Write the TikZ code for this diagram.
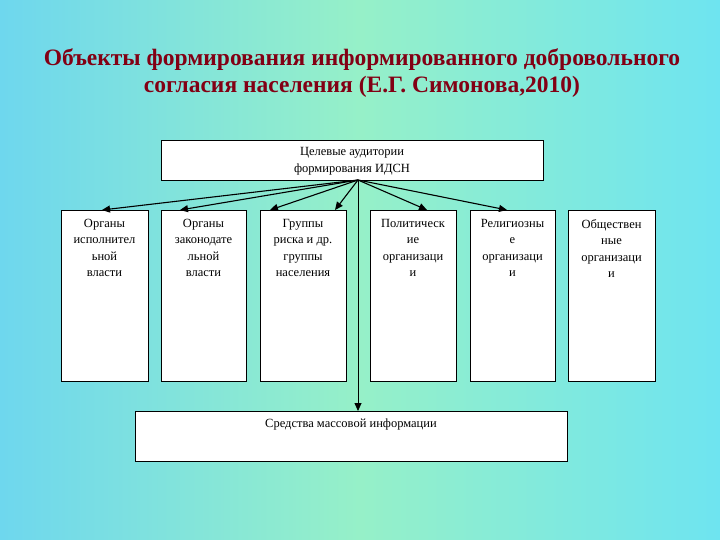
\documentclass[tikz,border=0pt]{standalone}
\usepackage{fontspec}
\setmainfont{Liberation Serif}
\usetikzlibrary{arrows.meta}
\definecolor{bgl}{RGB}{110,215,238}
\definecolor{bgm}{RGB}{150,240,200}
\definecolor{bgr}{RGB}{110,228,240}
\definecolor{ttl}{RGB}{130,0,20}
\begin{document}
\begin{tikzpicture}[x=1pt,y=-1pt,
 bx/.style={draw=black,fill=white,line width=0.8pt},
 lbl/.style={align=center,font=\fontsize{12.5}{16.5}\selectfont,inner sep=0pt},
 ar/.style={-{Triangle[length=8pt,width=7pt]},line width=1.1pt}]
\useasboundingbox (0,0) rectangle (720,540);
\shade[left color=bgl,right color=bgr,middle color=bgm,shading=axis,shading angle=90] (0,0) rectangle (720,540);
\node[font=\bfseries\fontsize{23.5}{27}\selectfont,text=ttl,align=center] (t) at (362,73) {Объекты формирования информированного добровольного\\согласия населения (Е.Г. Симонова,2010)};
\draw[bx] (161,140) rectangle (543,180);
\node[lbl] (top) at (352,161) {Целевые аудитории\\формирования ИДСН};
\coordinate (s) at (358,180);
\foreach \n/\a/\b/\tip/\txt in {b1/61/148/102/{Органы\\исполнител\\ьной\\власти},
 b2/161/246/180/{Органы\\законодате\\льной\\власти},
 b3/260/346/270/{Группы\\риска и др.\\группы\\населения},
 b4/370/456/335/{Политическ\\ие\\организаци\\и},
 b5/470/555/427/{Религиозны\\е\\организаци\\и},
 b6/568/655/507/{Обществен\\ные\\организаци\\и}}{
 \draw[bx] (\a,210) rectangle (\b,381);
 \node[lbl,anchor=north] (\n) at ({(\a+\b)/2},219) {\txt};
 \coordinate (\n t) at (\tip,210);
 \draw[ar] (s) -- (\n t);
}
\draw[bx] (135,411) rectangle (567,461);
\node[lbl] (mm) at (351,424) {Средства массовой информации};
\coordinate (mt) at (358,411);
\draw[ar,line width=0.8pt] (s) -- (mt);
\end{tikzpicture}
\end{document}
